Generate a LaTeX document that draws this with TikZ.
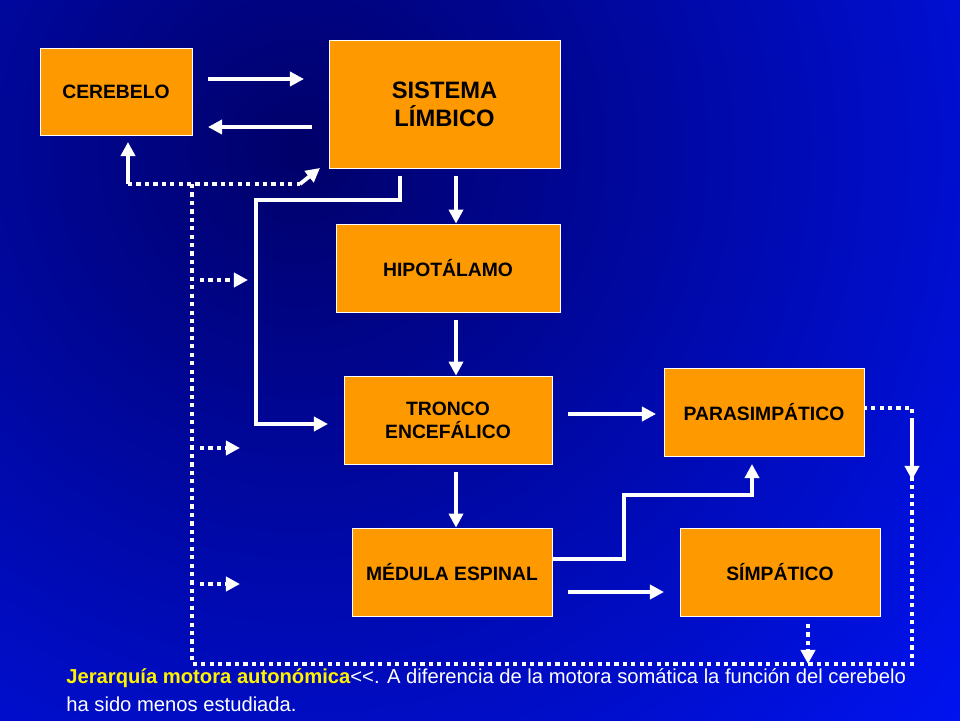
\documentclass[tikz,border=0pt]{standalone}
\usepackage{fontspec}
\setmainfont{Liberation Sans}
\usetikzlibrary{arrows.meta}
\definecolor{boxorange}{RGB}{255,153,0}
\definecolor{navy}{RGB}{0,0,105}
\definecolor{brightblue}{RGB}{0,20,245}
\tikzset{
  box/.style={draw=white,fill=boxorange,font=\bfseries\fontsize{11}{13}\selectfont,align=center,inner sep=0pt},
  link/.style={white,line width=2.2pt,-{Triangle[width=8pt,length=8pt]}},
  dots/.style={white,line width=2.4pt,dash pattern=on 2.4pt off 2.4pt},
  dotlink/.style={dots,-{Triangle[width=8pt,length=8pt]}}
}
\begin{document}
\begin{tikzpicture}[x=0.02cm,y=-0.02cm]
  \clip (0,0) rectangle (960,720);
  \fill[brightblue] (0,0) rectangle (960,720);
  \shade[inner color=navy,outer color=brightblue] (300,150) circle (900);

  % boxes
  \node[box,minimum width=152*0.02cm,minimum height=87*0.02cm] (cerebelo) at (116,91.5) {CEREBELO};
  \node[box,minimum width=231*0.02cm,minimum height=128*0.02cm,font=\bfseries\fontsize{13.5}{16}\selectfont] (limbico) at (444.5,104) {SISTEMA\\ LÍMBICO};
  \node[box,minimum width=224*0.02cm,minimum height=88*0.02cm] (hipo) at (448,268) {HIPOTÁLAMO};
  \node[box,minimum width=208*0.02cm,minimum height=88*0.02cm] (tronco) at (448,420) {TRONCO\\ ENCEFÁLICO};
  \node[box,minimum width=200*0.02cm,minimum height=88*0.02cm] (para) at (764,412) {PARASIMPÁTICO};
  \node[box,minimum width=200*0.02cm,minimum height=88*0.02cm] (medula) at (452,572) {MÉDULA ESPINAL};
  \node[box,minimum width=200*0.02cm,minimum height=88*0.02cm] (simp) at (780,572) {SÍMPÁTICO};

  % solid connectors
  \draw[link] (208,79) -- (304,79);
  \draw[link] (312,127) -- (208,127);
  \draw[link] (456,176) -- (hipo.north-|456,0);
  \draw[link] (456,320) -- (tronco.north-|456,0);
  \draw[link] (456,472) -- (medula.north-|456,0);
  \draw[link] (400,176) -- (400,200) -- (256,200) -- (256,424) -- (328,424);
  \draw[link] (568,414) -- (656,414);
  \draw[link] (568,592) -- (664,592);
  \draw[link] (medula.east|-0,559) -- (624,559) -- (624,495) -- (752,495) -- (752,464);

  % dotted feedback
  \draw[dots] (128,184) -- (300,184);
  \draw[link] (128,184) -- (128,142);
  \draw[link] (300,184) -- (320,168);
  \draw[dots] (192,184) -- (192,664) -- (912,664) -- (912,408) -- (para.east|-0,408);
  \draw[link] (912,420) -- (912,480);
  \draw[dotlink] (808,624) -- (808,664);
  \foreach \y/\x in {280/248,448/240,584/240}
    \draw[dotlink] (200,\y) -- (\x,\y);

  % caption
  \node[anchor=base west,inner sep=0pt,font=\fontsize{11.5}{14}\selectfont,text=white] (cap1) at (66,683)
    {\textcolor{yellow}{\bfseries Jerarquía motora autonómica}{<}{<}. A diferencia de la motora somática la función del cerebelo};
  \node[anchor=base west,inner sep=0pt,font=\fontsize{11.5}{14}\selectfont,text=white] (cap2) at (66,711)
    {ha sido menos estudiada.};
\end{tikzpicture}
\end{document}
